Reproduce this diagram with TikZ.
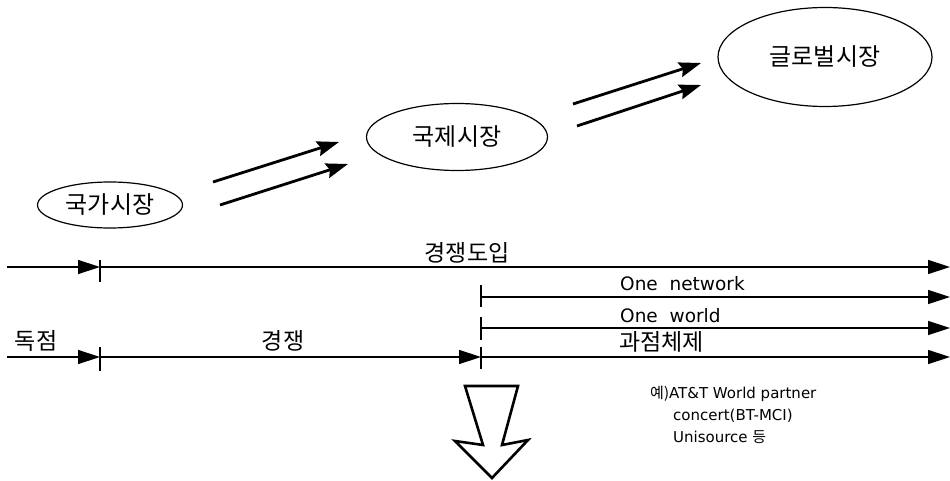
\documentclass[tikz,border=0pt]{standalone}
\usepackage{fontspec}
\setmainfont{DejaVu Sans}
\newfontfamily\kr{Noto Sans CJK KR}
\usetikzlibrary{shapes.geometric,arrows.meta}
\tikzset{
  market/.style={ellipse,draw,line width=1.2pt,inner sep=0pt,font=\kr\fontsize{24}{28}\selectfont},
  tline/.style={line width=1.4pt,-{Triangle[length=22pt,width=14pt]}},
  tick/.style={line width=1.3pt},
  trend/.style={line width=2.8pt,-{Stealth[length=22pt,width=15pt,inset=3pt]}},
  lbl/.style={font=\kr\fontsize{23}{26}\selectfont,inner sep=0pt},
  elbl/.style={font=\fontsize{18.5}{22}\selectfont,inner sep=0pt},
  note/.style={font=\fontsize{15}{18}\selectfont,inner sep=0pt,anchor=base west},
  block/.style={draw,line width=2.6pt,line join=miter,fill=white}
}
\begin{document}
\begin{tikzpicture}[x=1pt,y=-1pt]
\useasboundingbox (0,0) rectangle (950,481);
% markets
\node[market,minimum width=145pt,minimum height=46pt] (m1) at (110,205) {국가시장};
\node[market,minimum width=181pt,minimum height=67pt] (m2) at (457,137) {국제시장};
\node[market,minimum width=214pt,minimum height=99pt] (m3) at (825,57) {글로벌시장};
% trend arrows
\coordinate (t1a) at (213,182); \coordinate (t1b) at (339,142);
\coordinate (t2a) at (220,205); \coordinate (t2b) at (348,164);
\coordinate (t3a) at (573,104); \coordinate (t3b) at (701,63);
\coordinate (t4a) at (577,126); \coordinate (t4b) at (701,85);
\draw[trend] (t1a) -- (t1b);
\draw[trend] (t2a) -- (t2b);
\draw[trend] (t3a) -- (t3b);
\draw[trend] (t4a) -- (t4b);
% row 1
\coordinate (r1a) at (7,267); \coordinate (r1b) at (100,267); \coordinate (r1c) at (950,267);
\draw[tline] (r1a) -- (r1b);
\draw[tline] (r1b) -- (r1c);
\coordinate (k1a) at (100,260); \coordinate (k1b) at (100,282);
\draw[tick] (k1a) -- (k1b);
\node[lbl,anchor=base] (l1) at (467,261) {경쟁도입};
% row 2
\coordinate (r2a) at (481,297); \coordinate (r2b) at (950,297);
\draw[tline] (r2a) -- (r2b);
\coordinate (k2a) at (481,285); \coordinate (k2b) at (481,307);
\draw[tick] (k2a) -- (k2b);
\node[elbl,anchor=base west] (l2) at (620,290) {One\ \ network};
% row 3
\coordinate (r3a) at (481,328); \coordinate (r3b) at (950,328);
\draw[tline] (r3a) -- (r3b);
\coordinate (k3a) at (481,317); \coordinate (k3b) at (481,340);
\draw[tick] (k3a) -- (k3b);
\node[elbl,anchor=base west] (l3) at (620,322) {One\ \ world};
% row 4
\coordinate (r4a) at (7,357); \coordinate (r4b) at (100,357); \coordinate (r4c) at (481,357); \coordinate (r4d) at (950,357);
\draw[tline] (r4a) -- (r4b);
\draw[tline] (r4b) -- (r4c);
\draw[tline] (r4c) -- (r4d);
\coordinate (k4a) at (100,347); \coordinate (k4b) at (100,371);
\draw[tick] (k4a) -- (k4b);
\coordinate (k5a) at (481,347); \coordinate (k5b) at (481,369);
\draw[tick] (k5a) -- (k5b);
\node[lbl,anchor=base west] (l4) at (619,350) {과점체제};
\node[lbl,anchor=base] (l5) at (36,349) {독점};
\node[lbl,anchor=base] (l6) at (283,349) {경쟁};
% note
\node[note] (n1) at (650,398) {{\kr 예)}AT\&T World partner};
\node[note] (n2) at (673,420) {concert(BT-MCI)};
\node[note] (n3) at (673,442) {Unisource {\kr 등}};
% block arrow
\draw[block] (465,386) -- (518,386) -- (502,445) -- (528,440) -- (492,478) -- (455,441) -- (483,445) -- cycle;
\end{tikzpicture}
\end{document}
